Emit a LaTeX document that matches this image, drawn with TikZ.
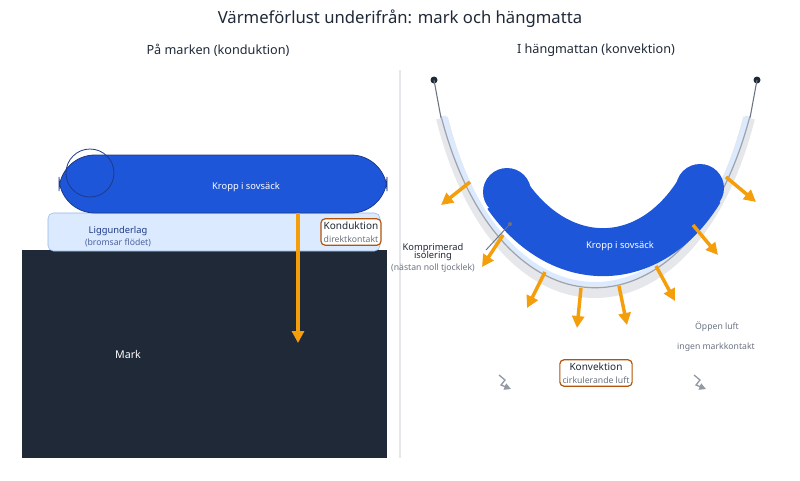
\documentclass[tikz,border=0pt]{standalone}
\usepackage{fontspec}
\setmainfont{Noto Sans}
\usetikzlibrary{arrows.meta}
\definecolor{bodyb}{HTML}{1D56D8}
\definecolor{bodyd}{HTML}{1E3A8A}
\definecolor{mat}{HTML}{DBEAFE}
\definecolor{matd}{HTML}{93B5E8}
\definecolor{ground}{HTML}{1F2937}
\definecolor{org}{HTML}{F59E0B}
\definecolor{brn}{HTML}{B45309}
\definecolor{txt}{HTML}{1F2937}
\definecolor{gtx}{HTML}{6B7280}
\definecolor{fab}{HTML}{E5E7EB}
\definecolor{fabd}{HTML}{9CA3AF}
\begin{document}
\begin{tikzpicture}[x=0.75pt,y=-0.75pt,
  heat/.style={draw=org,line width=2.6pt,-{Triangle[length=9pt,width=9pt]}},
  lbl/.style={font=\fontsize{7}{8}\selectfont\bfseries,text=txt,align=center},
  sub/.style={font=\fontsize{6.5}{8}\selectfont,text=gtx,align=center},
  tag/.style={draw=brn,line width=0.9pt,rounded corners=3pt,fill=white,align=center,inner sep=2pt}]
\useasboundingbox (0,0) rectangle (800,480);
\node[font=\fontsize{12.5}{14}\selectfont\bfseries,text=txt] (title) at (400,19) {Värmeförlust underifrån: mark och hängmatta};
\node[font=\fontsize{9.5}{11}\selectfont\bfseries,text=txt] (tl) at (218,50) {På marken (konduktion)};
\node[font=\fontsize{9.5}{11}\selectfont\bfseries,text=txt] (tr) at (596,50) {I hängmattan (konvektion)};
\draw[fab,line width=0.8pt] (400,70) -- (400,458);
% left
\fill[ground] (22,250) rectangle (387,458);
\node[font=\fontsize{8}{9}\selectfont\bfseries,text=white] (mark) at (128,354) {Mark};
\draw[matd,fill=mat,rounded corners=4pt] (48,213) rectangle (380,251);
\node[lbl,text=bodyd] (mat) at (118,231) {Liggunderlag};
\node[sub,text=bodyd!80] (mat2) at (118,243) {(bromsar flödet)};
\draw[bodyd,fill=bodyb,rounded corners=27pt,line width=0.6pt] (59,155) rectangle (387,213);
\draw[bodyd,line width=0.6pt] (90,173) circle (24);
\node[lbl,text=white] (kb) at (246,187) {Kropp i sovsäck};
\coordinate (hs) at (298,213);
\coordinate (he) at (298,343);
\draw[heat] (hs) -- (he);
\node[tag] (kond) at (351,232) {\fontsize{7.5}{8}\selectfont\bfseries\color{txt}Konduktion\\[-2pt]\fontsize{6.5}{7}\selectfont\color{gtx}direktkontakt};
% right hammock
\fill[ground] (434,80) circle (3.5) (757,80) circle (3.5);
\draw[gtx,line width=0.8pt] (434,80) -- (441,118);
\draw[gtx,line width=0.8pt] (757,80) -- (750,118);
\draw[fab,line width=9pt] (442,118) .. controls (500,350) and (690,350) .. (749,118);
\draw[mat,line width=3pt] (444,116) .. controls (502,340) and (688,340) .. (747,116);
\draw[fabd,line width=0.9pt] (441,116) .. controls (500,345) and (690,345) .. (750,116);
\draw[bodyb,line width=36pt] (507,195) .. controls (560,272) and (650,272) .. (700,190);
\fill[bodyb] (507,192) circle (24) (700,188) circle (24);
\node[lbl,text=white] (kb2) at (620,246) {Kropp i sovsäck};
\node[lbl] (komp) at (433,252) {Komprimerad\\[-2pt]isolering};
\node[sub] (komp2) at (433,268) {(nästan noll tjocklek)};
\coordinate (kp) at (510,224);
\draw[gtx,line width=0.7pt] (486,250) -- (kp);
\fill[gtx] (kp) circle (2);
\foreach \a/\b/\c/\d in {470/182/441/205, 503/235/482/267, 545/272/527/308, 581/288/577/328, 619/286/627/325, 656/266/675/301, 693/225/718/255, 726/177/756/202}
  \draw[heat] (\a,\b) -- (\c,\d);
\node[sub,font=\fontsize{6.5}{8}\selectfont] (op) at (717,327) {Öppen luft};
\node[sub,font=\fontsize{6.5}{8}\selectfont] (ing) at (716,347) {ingen markkontakt};
\node[tag] (konv) at (596,373) {\fontsize{7.5}{8}\selectfont\bfseries\color{txt}Konvektion\\[-2pt]\fontsize{6.5}{7}\selectfont\color{gtx}cirkulerande luft};
\foreach \x in {499,694}
  \draw[fabd!80!gtx,line width=1pt,-{Triangle[length=5pt,width=5pt]}] (\x,375) -- (\x+6,380) -- (\x+2,385) -- (\x+12,389);
\end{tikzpicture}
\end{document}
